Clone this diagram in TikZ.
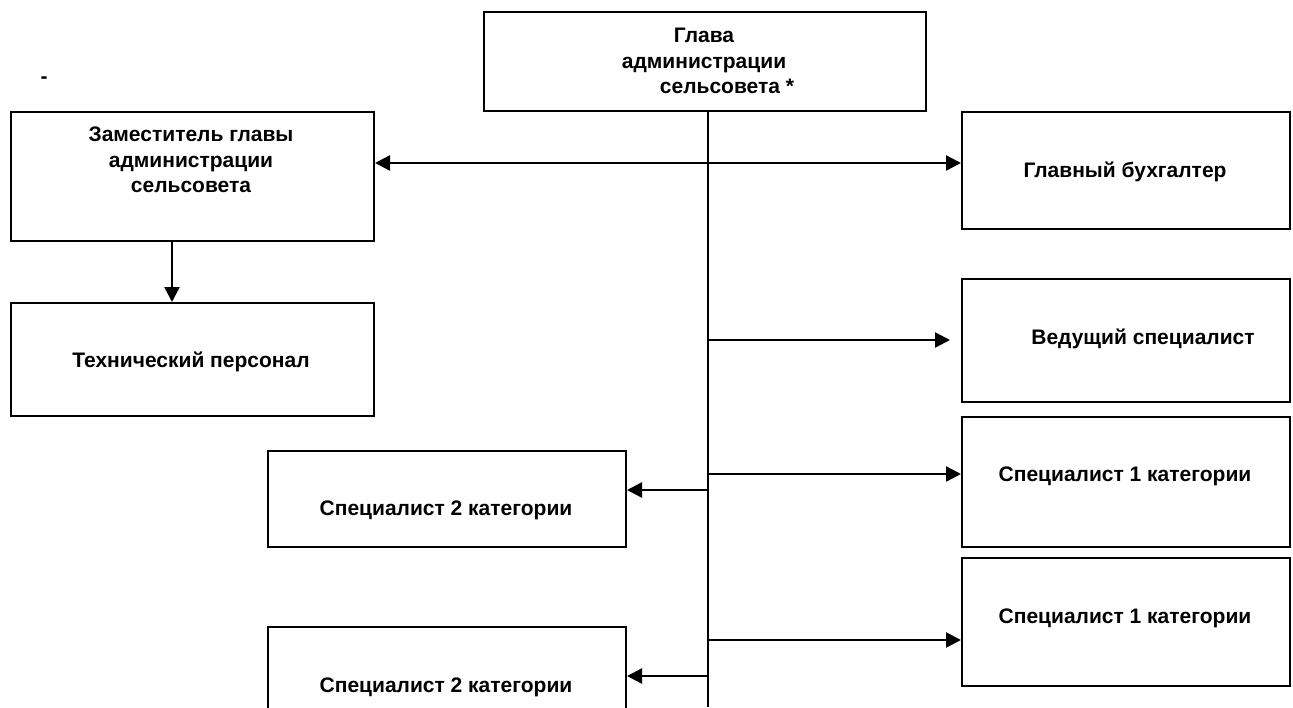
\documentclass[tikz,border=0pt]{standalone}
\usepackage{fontspec}
\setmainfont{Liberation Sans}
\usetikzlibrary{arrows.meta}
\begin{document}
\begin{tikzpicture}[x=1pt,y=-1pt,
  box/.style={draw, line width=2pt, rectangle, inner sep=0pt, anchor=north west},
  lbl/.style={font=\fontsize{21}{25.5}\selectfont\bfseries, align=center, inner sep=0pt},
  conn/.style={line width=2.4pt, -{Triangle[length=15pt,width=15pt]}},
  ]
\useasboundingbox (0,0) rectangle (1293,707);
\clip (0,0) rectangle (1293,707);
% boxes
\node[box, minimum width=442pt, minimum height=99pt] (head) at (483,11) {};
\node[box, minimum width=363pt, minimum height=129pt] (zam) at (10,111) {};
\node[box, minimum width=328pt, minimum height=117pt] (buh) at (961,111) {};
\node[box, minimum width=363pt, minimum height=113pt] (tech) at (10,302) {};
\node[box, minimum width=328pt, minimum height=123pt] (ved) at (961,278) {};
\node[box, minimum width=328pt, minimum height=130pt] (s1a) at (961,416) {};
\node[box, minimum width=328pt, minimum height=128pt] (s1b) at (961,557) {};
\node[box, minimum width=358pt, minimum height=96pt] (s2a) at (267,450) {};
\node[box, minimum width=358pt, minimum height=130pt] (s2b) at (267,626) {};
% texts
\node[lbl] (headT) at (704,61) {Глава\\администрации\\\hspace*{46pt}сельсовета *};
\node[lbl] (zamT) at (191,160) {Заместитель главы\\администрации\\сельсовета};
\node[lbl] (buhT) at (1125,172) {Главный бухгалтер};
\node[lbl] (techT) at (191,362) {Технический персонал};
\node[lbl] (vedT) at (1125,339) {\hspace*{36pt}Ведущий специалист};
\node[lbl] (s1aT) at (1125,476) {Специалист 1 категории};
\node[lbl] (s1bT) at (1125,618) {Специалист 1 категории};
\node[lbl] (s2aT) at (446,510) {Специалист 2 категории};
\node[lbl] (s2bT) at (446,687) {Специалист 2 категории};
\node[font=\fontsize{21}{25}\selectfont\bfseries, inner sep=0pt] (dash) at (44,80) {-};
% trunk
\coordinate (tbot) at (708,707);
\draw[line width=1.8pt] (head.south -| tbot) -- (tbot);
% double arrow
\coordinate (h1) at (708,163);
\draw[line width=2.4pt, {Triangle[length=15pt,width=15pt]}-{Triangle[length=15pt,width=15pt]}] (h1 -| zam.east) -- (h1 -| buh.west);
% zam -> tech
\coordinate (v1) at (172,0);
\draw[conn] (v1 |- zam.south) -- (v1 |- tech.north);
% branches
\coordinate (b1) at (708,340);
\coordinate (b2) at (708,474);
\coordinate (b3) at (708,490);
\coordinate (b4) at (708,640);
\coordinate (b5) at (708,676);
\draw[conn, shorten >=11pt] (b1) -- (b1 -| ved.west);
\draw[conn] (b2) -- (b2 -| s1a.west);
\draw[conn] (b3) -- (b3 -| s2a.east);
\draw[conn] (b4) -- (b4 -| s1b.west);
\draw[conn] (b5) -- (b5 -| s2b.east);
\end{tikzpicture}
\end{document}
